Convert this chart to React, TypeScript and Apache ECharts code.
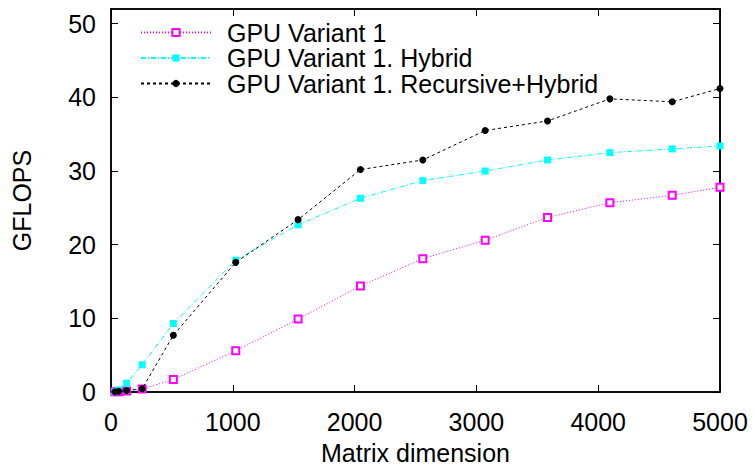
import React, { useEffect, useRef } from "react";
import * as echarts from "echarts";

const dims = [32, 64, 128, 256, 512, 1024, 1536, 2048, 2560, 3072, 3584, 4096, 4608, 5000];
const variant1 = [0.02, 0.05, 0.15, 0.4, 1.7, 5.6, 9.9, 14.4, 18.1, 20.6, 23.7, 25.7, 26.7, 27.8];
const hybrid = [0.05, 0.3, 1.2, 3.7, 9.3, 17.9, 22.7, 26.3, 28.7, 30.0, 31.5, 32.5, 33.0, 33.4];
const recursive = [0.03, 0.1, 0.2, 0.45, 7.7, 17.6, 23.4, 30.2, 31.5, 35.5, 36.8, 39.8, 39.4, 41.2];
const seriesNames = ["GPU Variant 1", "GPU Variant 1. Hybrid", "GPU Variant 1. Recursive+Hybrid"];
const xTitle = "Matrix dimension";
const yTitle = "GFLOPS";

const FONT = "Liberation Sans, Arial, Helvetica, sans-serif";
const FS = 25;

export default function App() {
  const ref = useRef<HTMLDivElement>(null);
  useEffect(() => {
    if (!ref.current) return;
    const chart = echarts.init(ref.current, null, { renderer: "svg" });
    const pairs = (ys: number[]) => dims.map((d, i) => [d, ys[i]]);
    const axisLine = { show: true, onZero: false, lineStyle: { color: "#000", width: 1.5 } };
    const tick = { show: true, inside: true, length: 7, lineStyle: { color: "#000", width: 1 } };
    chart.setOption({
      animation: false,
      backgroundColor: "#fff",
      textStyle: { fontFamily: FONT },
      grid: {
        left: 111,
        right: 34,
        top: 9,
        bottom: 75,
        containLabel: false,
        outerBoundsMode: "none",
        show: true,
        borderColor: "#000",
        borderWidth: 1.5,
        backgroundColor: "transparent",
      },
      legend: {
        orient: "vertical",
        left: 135,
        top: 15,
        itemWidth: 70,
        itemHeight: 9,
        itemGap: 0.5,
        textStyle: { fontFamily: FONT, fontSize: FS, color: "#000", lineHeight: 25, padding: [0, 0, 0, 11] },
        data: seriesNames,
      },
      xAxis: [
        {
          type: "value",
          gridIndex: 0,
          min: 0,
          max: 5000,
          interval: 1000,
          position: "bottom",
          name: xTitle,
          nameLocation: "middle",
          nameGap: 48,
          nameTextStyle: { fontFamily: FONT, fontSize: FS, color: "#000" },
          axisLine,
          axisTick: tick,
          axisLabel: {
            fontFamily: FONT,
            fontSize: FS,
            color: "#000",
            margin: 17,
            formatter: (v: number) => String(v),
          },
          splitLine: { show: false },
        },
        {
          type: "value",
          gridIndex: 0,
          min: 0,
          max: 5000,
          interval: 1000,
          position: "top",
          axisLine,
          axisTick: tick,
          axisLabel: { show: false },
          splitLine: { show: false },
        },
      ],
      yAxis: [
        {
          type: "value",
          gridIndex: 0,
          min: 0,
          max: 52,
          interval: 10,
          position: "left",
          name: yTitle,
          nameLocation: "middle",
          nameGap: 77,
          nameTextStyle: { fontFamily: FONT, fontSize: FS, color: "#000" },
          axisLine,
          axisTick: tick,
          axisLabel: { fontFamily: FONT, fontSize: FS, color: "#000", margin: 15, showMaxLabel: false },
          splitLine: { show: false },
        },
        {
          type: "value",
          gridIndex: 0,
          min: 0,
          max: 52,
          interval: 10,
          position: "right",
          axisLine,
          axisTick: tick,
          axisLabel: { show: false },
          splitLine: { show: false },
        },
      ],
      series: [
        {
          name: seriesNames[0],
          type: "line",
          data: pairs(variant1),
          symbol: "emptyRect",
          symbolSize: 7,
          showAllSymbol: true,
          color: "#ff00ff",
          itemStyle: { color: "#ff00ff", borderColor: "#ff00ff", borderWidth: 1 },
          lineStyle: { color: "#ff00ff", width: 1, type: [1, 2] },
          z: 2,
        },
        {
          name: seriesNames[1],
          type: "line",
          data: pairs(hybrid),
          symbol: "rect",
          symbolSize: 7,
          showAllSymbol: true,
          color: "#00ffff",
          itemStyle: { color: "#00ffff" },
          lineStyle: { color: "#00ffff", width: 1, type: [5, 2, 1, 2] },
          z: 3,
        },
        {
          name: seriesNames[2],
          type: "line",
          data: pairs(recursive),
          symbol: "circle",
          symbolSize: 7,
          showAllSymbol: true,
          color: "#000000",
          itemStyle: { color: "#000000" },
          lineStyle: { color: "#000000", width: 1, type: [3, 3] },
          z: 4,
        },
        {
          name: "mirror-axes",
          type: "line",
          xAxisIndex: 1,
          yAxisIndex: 1,
          data: [],
          symbol: "none",
          silent: true,
        },
      ],
    });
    return () => chart.dispose();
  }, []);
  return (
    <div
      ref={ref}
      style={{ position: "absolute", left: 0, top: 0, width: 754, height: 467, background: "#fff" }}
    />
  );
}
